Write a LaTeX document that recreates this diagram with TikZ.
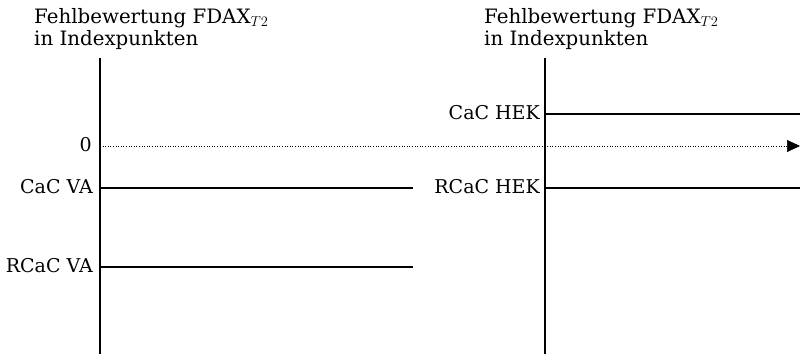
\documentclass[tikz,border=0pt]{standalone}
\usepackage{fontspec}
\setmainfont{DejaVu Serif}
\usetikzlibrary{arrows.meta}
\begin{document}
\begin{tikzpicture}[x=1pt,y=-1pt,
  lbl/.style={anchor=east,inner sep=0pt,font=\fontsize{19}{22}\selectfont},
  ttl/.style={anchor=north west,inner sep=0pt,align=left,font=\fontsize{19.8}{22}\selectfont},
  axis/.style={line width=1.3pt},
  lvl/.style={line width=1.3pt},
  zero/.style={dotted,line width=0.6pt,-{Triangle[length=13pt,width=12pt]}}]
\useasboundingbox (0,0) rectangle (800,355);
% titles
\node[ttl] (t1) at (34,8) {Fehlbewertung FDAX$_{T2}$\\in Indexpunkten};
\node[ttl] (t2) at (484,8) {Fehlbewertung FDAX$_{T2}$\\in Indexpunkten};
% axes
\coordinate (a1t) at (100,58); \coordinate (a1b) at (100,354);
\coordinate (a2t) at (545,58); \coordinate (a2b) at (545,354);
\draw[axis] (a1t) -- (a1b);
\draw[axis] (a2t) -- (a2b);
% zero line
\node[lbl] (z) at (92,145) {0};
\coordinate (z0) at (100,146); \coordinate (z1) at (800,146);
\draw[zero] (z0) -- (z1);
% left levels
\node[lbl] (cva) at (93,187) {CaC VA};
\coordinate (cva0) at (100,188); \coordinate (cva1) at (413,188);
\draw[lvl] (cva0) -- (cva1);
\node[lbl] (rva) at (93,266) {RCaC VA};
\coordinate (rva0) at (100,267); \coordinate (rva1) at (413,267);
\draw[lvl] (rva0) -- (rva1);
% right levels
\node[lbl] (chek) at (540,113) {CaC HEK};
\coordinate (chek0) at (545,114); \coordinate (chek1) at (800,114);
\draw[lvl] (chek0) -- (chek1);
\node[lbl] (rhek) at (540,187) {RCaC HEK};
\coordinate (rhek0) at (545,188); \coordinate (rhek1) at (800,188);
\draw[lvl] (rhek0) -- (rhek1);
\end{tikzpicture}
\end{document}
